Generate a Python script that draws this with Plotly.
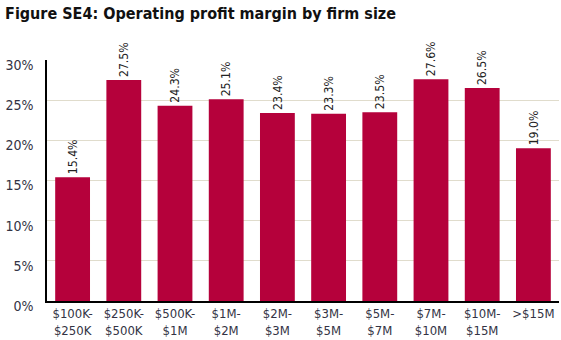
import plotly.graph_objects as go

categories = ["$100K-<br>$250K", "$250K-<br>$500K", "$500K-<br>$1M", "$1M-<br>$2M", "$2M-<br>$3M",
              "$3M-<br>$5M", "$5M-<br>$7M", "$7M-<br>$10M", "$10M-<br>$15M", ">$15M"]
margins = [15.4, 27.5, 24.3, 25.1, 23.4, 23.3, 23.5, 27.6, 26.5, 19.0]
y_ticks = [0, 5, 10, 15, 20, 25, 30]
y_tick_labels = ["0%", "5%", "10%", "15%", "20%", "25%", "30%"]

FONT = "DejaVu Sans Condensed, Liberation Sans Narrow, sans-serif"

fig = go.Figure(go.Bar(
    x=categories, y=margins,
    marker=dict(color="#B5013B", line=dict(width=0)),
    text=[f"{v:.1f}%" for v in margins],
    textposition="outside", textangle=-90,
    textfont=dict(family=FONT, size=13, color="#222222"),
    cliponaxis=False,
))

fig.update_layout(
    width=561, height=340,
    margin=dict(l=47, r=2, t=60, b=36),
    paper_bgcolor="white", plot_bgcolor="white",
    bargap=0.32,
    showlegend=False,
    title=dict(text="<b>Figure SE4: Operating profit margin by firm size</b>",
               x=0.009, xanchor="left", y=0.962, yanchor="middle",
               font=dict(family=FONT, size=16, color="#111111")),
    font=dict(family=FONT, size=13, color="#333344"),
)
fig.update_yaxes(range=[0, 30], tickmode="array", tickvals=y_ticks, ticktext=y_tick_labels,
                 showgrid=True, gridcolor="#E0DCCC", gridwidth=1,
                 showline=True, linecolor="black", linewidth=1.5,
                 zeroline=False, ticks="", ticklabelstandoff=9, ticklabelshift=5,
                 tickfont=dict(family=FONT, size=14, color="#333344"))
fig.update_xaxes(showline=True, linecolor="black", linewidth=1.5,
                 ticks="", tickfont=dict(family=FONT, size=13, color="#333344"))

fig.write_html("out.html")
